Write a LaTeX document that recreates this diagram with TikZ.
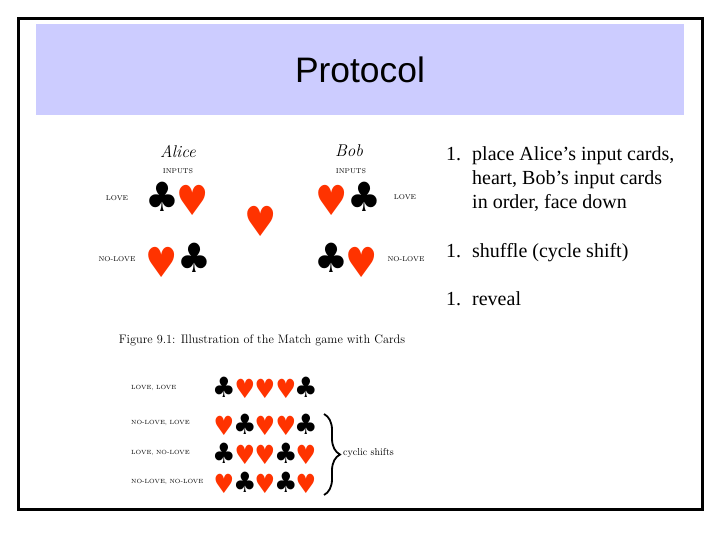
\documentclass[tikz,border=0pt]{standalone}
\usepackage{graphicx}
\usepackage{fontspec}
\setmainfont{Liberation Serif}
\newfontfamily\titlefont{Liberation Sans}
\newfontfamily\suitfont{DejaVu Sans}
\newfontfamily\capfont{Latin Modern Roman}
\usetikzlibrary{decorations.pathreplacing}
\definecolor{bandblue}{HTML}{CCCCFF}
\definecolor{heartred}{HTML}{FF3300}
\newcommand{\clubglyph}{\scalebox{1.05}[1.12]{\symbol{"2663}}}
\newcommand{\heartglyph}{\scalebox{1.0}[1.15]{\symbol{"2665}}}
\begin{document}
\begin{tikzpicture}[
    x=1pt, y=-1pt,
    club/.style={inner sep=0pt, font=\suitfont\fontsize{#1}{#1}\selectfont, text=black},
    heart/.style={inner sep=0pt, font=\suitfont\fontsize{#1}{#1}\selectfont, text=heartred},
    tag/.style={inner sep=0pt, font=\capfont\fontsize{7}{8}\selectfont},
    rowtag/.style={inner sep=0pt, anchor=west, font=\capfont\fontsize{6}{8}\selectfont},
    player/.style={inner sep=0pt, font=\capfont\itshape\fontsize{17}{20}\selectfont},
    item/.style={inner sep=0pt, anchor=base west, font=\fontsize{20}{24}\selectfont},
]
    \useasboundingbox (0, 0) rectangle (720, 540);
    \fill[white] (0, 0) rectangle (720, 540);

    % Frame and title band
    \node[draw=none, fill=bandblue, minimum width=648pt, minimum height=91pt, inner sep=0pt] (band) at (360, 69.5) {};
    \node[inner sep=0pt, font=\titlefont\fontsize{35.4}{40}\selectfont] (title) at (360, 70) {Protocol};
    \node[draw=black, line width=3pt, minimum width=684pt, minimum height=491pt, inner sep=0pt] (frame) at (360, 264) {};

    % Players
    \node[player] (alice) at (178, 152) {Alice};
    \node[player] (bob) at (349, 151) {Bob};
    \node[tag] (inputsa) at (178, 171) {INPUTS};
    \node[tag] (inputsb) at (351, 171) {INPUTS};

    % Input cards
    \node[tag] (lovea) at (117, 198) {LOVE};
    \node[club=36] (ca) at (162, 197) {\clubglyph};
    \node[heart=36] (ha) at (193, 200) {\heartglyph};
    \node[heart=36] (hb) at (332, 200) {\heartglyph};
    \node[club=36] (cb) at (364, 197) {\clubglyph};
    \node[tag] (loveb) at (405, 197) {LOVE};
    \node[heart=36] (hmid) at (261, 221) {\heartglyph};
    \node[tag] (nolovea) at (117, 259) {NO-LOVE};
    \node[heart=36] (hc) at (162, 262) {\heartglyph};
    \node[club=36] (cc) at (194, 258) {\clubglyph};
    \node[club=36] (cd) at (331, 258) {\clubglyph};
    \node[heart=36] (hd) at (362, 262) {\heartglyph};
    \node[tag] (noloveb) at (406, 259) {NO-LOVE};

    % Caption
    \node[inner sep=0pt, font=\capfont\fontsize{12.3}{14}\selectfont] (caption) at (262, 340) {Figure 9.1: Illustration of the Match game with Cards};

    % Shifted rows
    \node[rowtag] (rowa) at (131, 388) {LOVE, LOVE};
    \node[club=25] (a1) at (224, 387) {\clubglyph};
    \node[heart=23] (a2) at (245, 389) {\heartglyph};
    \node[heart=23] (a3) at (265, 389) {\heartglyph};
    \node[heart=23] (a4) at (286, 389) {\heartglyph};
    \node[club=25] (a5) at (306, 387) {\clubglyph};

    \node[rowtag] (rowb) at (131, 423) {NO-LOVE, LOVE};
    \node[heart=23] (b1) at (224, 426) {\heartglyph};
    \node[club=25] (b2) at (245, 424) {\clubglyph};
    \node[heart=23] (b3) at (265, 426) {\heartglyph};
    \node[heart=23] (b4) at (286, 426) {\heartglyph};
    \node[club=25] (b5) at (306, 424) {\clubglyph};

    \node[rowtag] (rowc) at (131, 453) {LOVE, NO-LOVE};
    \node[club=25] (c1) at (224, 453) {\clubglyph};
    \node[heart=23] (c2) at (245, 455) {\heartglyph};
    \node[heart=23] (c3) at (265, 455) {\heartglyph};
    \node[club=25] (c4) at (286, 453) {\clubglyph};
    \node[heart=23] (c5) at (306, 455) {\heartglyph};

    \node[rowtag] (rowd) at (131, 482) {NO-LOVE, NO-LOVE};
    \node[heart=23] (d1) at (224, 484) {\heartglyph};
    \node[club=25] (d2) at (245, 482) {\clubglyph};
    \node[heart=23] (d3) at (265, 484) {\heartglyph};
    \node[club=25] (d4) at (286, 482) {\clubglyph};
    \node[heart=23] (d5) at (306, 484) {\heartglyph};

    % Brace
    \coordinate (bracetop) at (324, 414);
    \coordinate (bracebot) at (324, 495);
    \draw[line width=1.8pt, decorate, decoration={brace, amplitude=16pt}] (bracetop) -- (bracebot);
    \node[inner sep=0pt, anchor=west, font=\capfont\fontsize{10}{12}\selectfont] (shifts) at (343, 453) {cyclic shifts};

    % Steps
    \node[item] (num1) at (446, 161) {1.};
    \node[item] (step1a) at (472, 161) {place Alice’s input cards,};
    \node[item] (step1b) at (472, 185) {heart, Bob’s input cards};
    \node[item] (step1c) at (472, 209) {in order, face down};
    \node[item] (num2) at (446, 257) {1.};
    \node[item] (step2) at (472, 257) {shuffle (cycle shift)};
    \node[item] (num3) at (446, 305) {1.};
    \node[item] (step3) at (472, 305) {reveal};
\end{tikzpicture}
\end{document}
